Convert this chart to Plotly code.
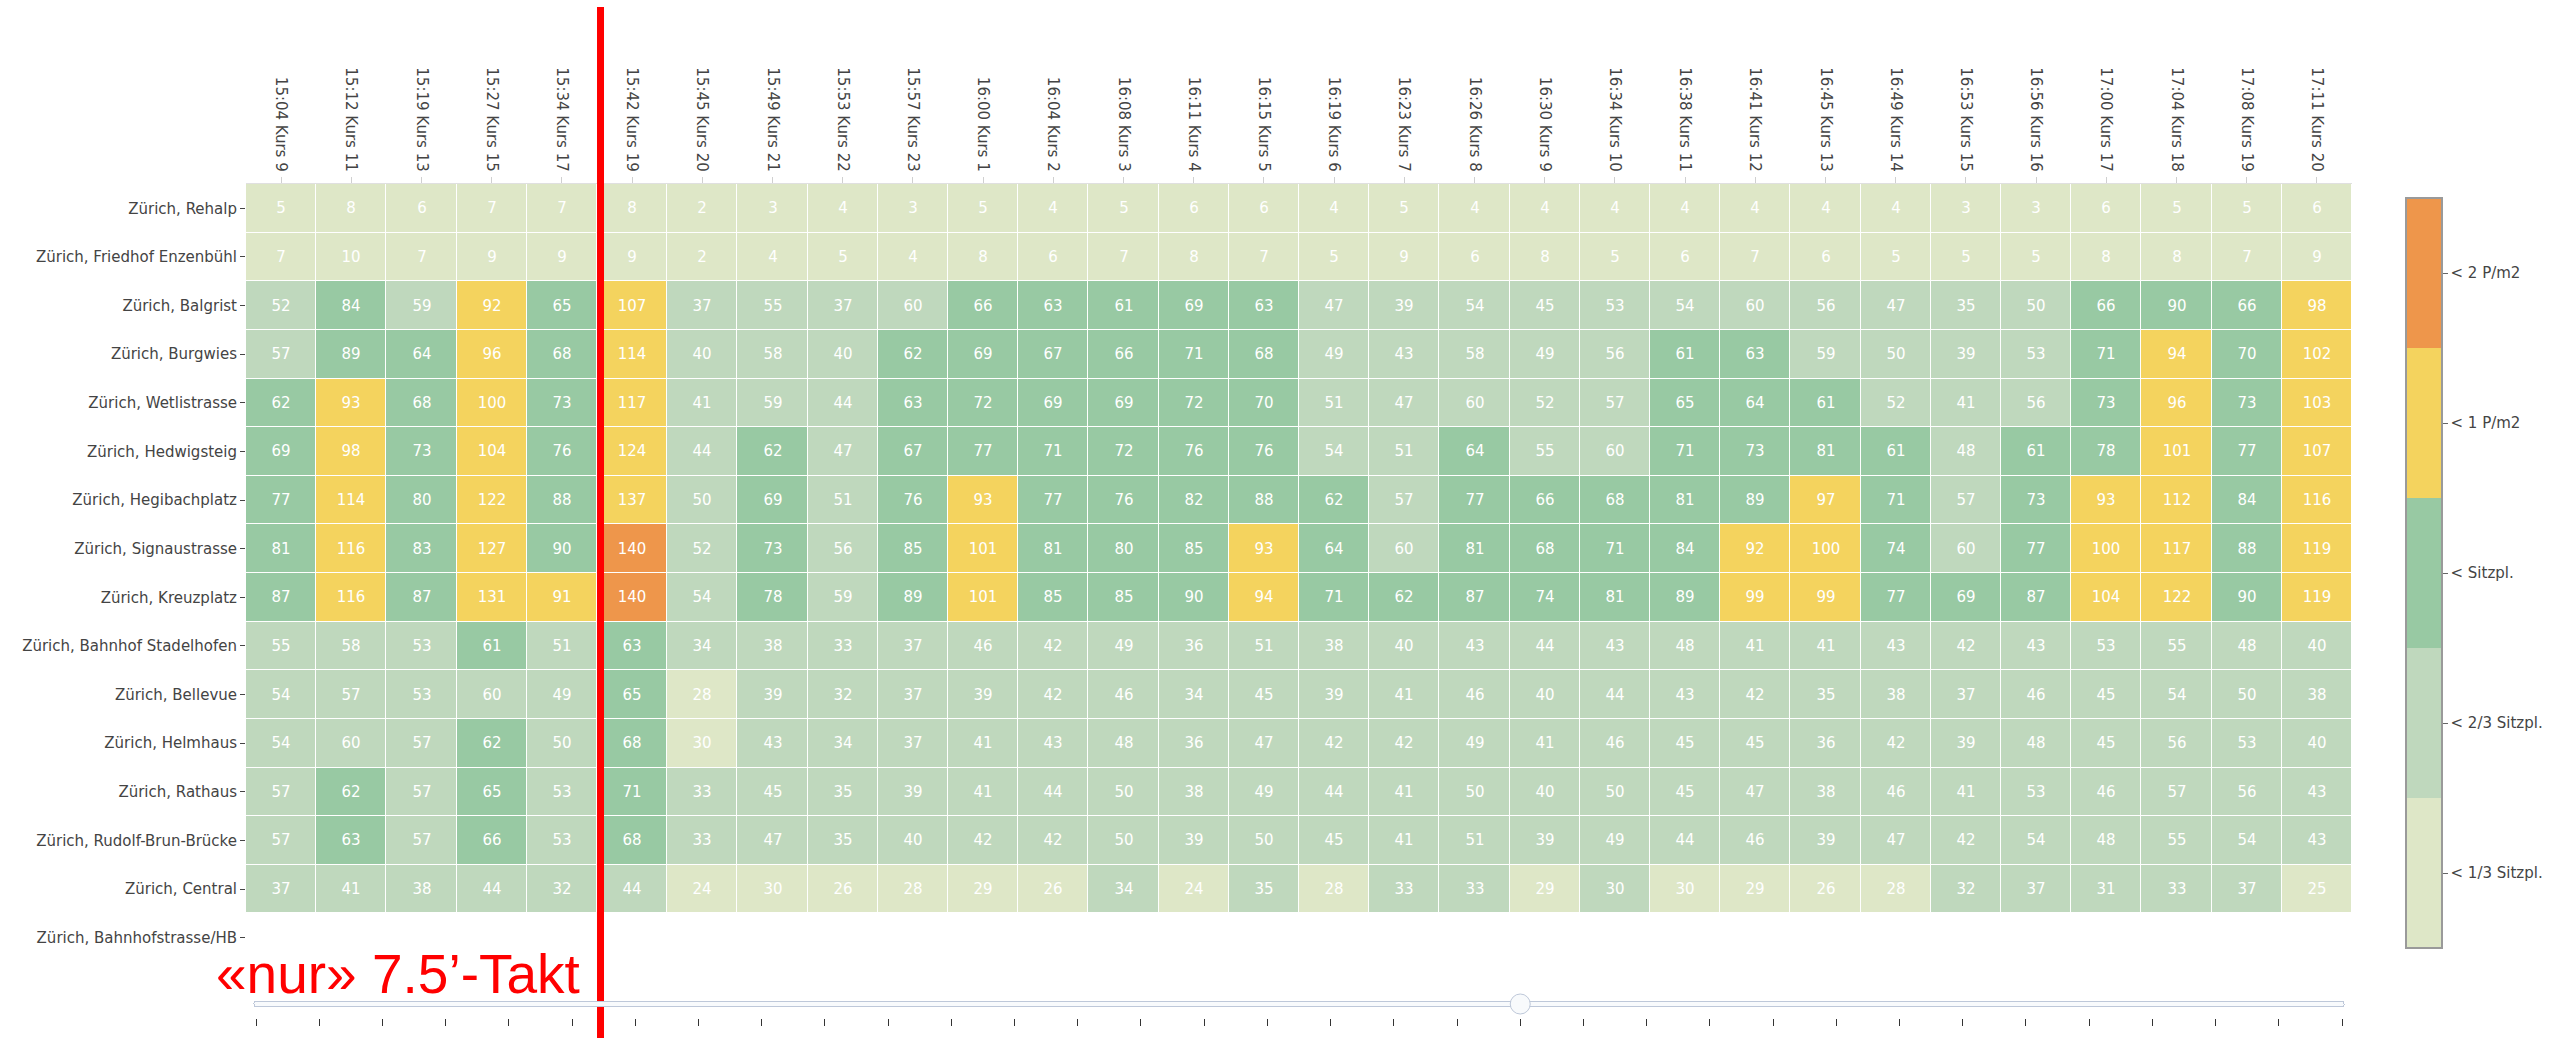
import plotly.graph_objects as go

courses = ["15:04 Kurs 9", "15:12 Kurs 11", "15:19 Kurs 13", "15:27 Kurs 15", "15:34 Kurs 17",
           "15:42 Kurs 19", "15:45 Kurs 20", "15:49 Kurs 21", "15:53 Kurs 22", "15:57 Kurs 23",
           "16:00 Kurs 1", "16:04 Kurs 2", "16:08 Kurs 3", "16:11 Kurs 4", "16:15 Kurs 5",
           "16:19 Kurs 6", "16:23 Kurs 7", "16:26 Kurs 8", "16:30 Kurs 9", "16:34 Kurs 10",
           "16:38 Kurs 11", "16:41 Kurs 12", "16:45 Kurs 13", "16:49 Kurs 14", "16:53 Kurs 15",
           "16:56 Kurs 16", "17:00 Kurs 17", "17:04 Kurs 18", "17:08 Kurs 19", "17:11 Kurs 20"]

stops = ["Zürich, Rehalp", "Zürich, Friedhof Enzenbühl", "Zürich, Balgrist", "Zürich, Burgwies",
         "Zürich, Wetlistrasse", "Zürich, Hedwigsteig", "Zürich, Hegibachplatz", "Zürich, Signaustrasse",
         "Zürich, Kreuzplatz", "Zürich, Bahnhof Stadelhofen", "Zürich, Bellevue", "Zürich, Helmhaus",
         "Zürich, Rathaus", "Zürich, Rudolf-Brun-Brücke", "Zürich, Central", "Zürich, Bahnhofstrasse/HB"]

# passengers per stop (rows) and course (columns)
passengers = [
    [5, 8, 6, 7, 7, 8, 2, 3, 4, 3, 5, 4, 5, 6, 6, 4, 5, 4, 4, 4, 4, 4, 4, 4, 3, 3, 6, 5, 5, 6],
    [7, 10, 7, 9, 9, 9, 2, 4, 5, 4, 8, 6, 7, 8, 7, 5, 9, 6, 8, 5, 6, 7, 6, 5, 5, 5, 8, 8, 7, 9],
    [52, 84, 59, 92, 65, 107, 37, 55, 37, 60, 66, 63, 61, 69, 63, 47, 39, 54, 45, 53, 54, 60, 56, 47, 35, 50, 66, 90, 66, 98],
    [57, 89, 64, 96, 68, 114, 40, 58, 40, 62, 69, 67, 66, 71, 68, 49, 43, 58, 49, 56, 61, 63, 59, 50, 39, 53, 71, 94, 70, 102],
    [62, 93, 68, 100, 73, 117, 41, 59, 44, 63, 72, 69, 69, 72, 70, 51, 47, 60, 52, 57, 65, 64, 61, 52, 41, 56, 73, 96, 73, 103],
    [69, 98, 73, 104, 76, 124, 44, 62, 47, 67, 77, 71, 72, 76, 76, 54, 51, 64, 55, 60, 71, 73, 81, 61, 48, 61, 78, 101, 77, 107],
    [77, 114, 80, 122, 88, 137, 50, 69, 51, 76, 93, 77, 76, 82, 88, 62, 57, 77, 66, 68, 81, 89, 97, 71, 57, 73, 93, 112, 84, 116],
    [81, 116, 83, 127, 90, 140, 52, 73, 56, 85, 101, 81, 80, 85, 93, 64, 60, 81, 68, 71, 84, 92, 100, 74, 60, 77, 100, 117, 88, 119],
    [87, 116, 87, 131, 91, 140, 54, 78, 59, 89, 101, 85, 85, 90, 94, 71, 62, 87, 74, 81, 89, 99, 99, 77, 69, 87, 104, 122, 90, 119],
    [55, 58, 53, 61, 51, 63, 34, 38, 33, 37, 46, 42, 49, 36, 51, 38, 40, 43, 44, 43, 48, 41, 41, 43, 42, 43, 53, 55, 48, 40],
    [54, 57, 53, 60, 49, 65, 28, 39, 32, 37, 39, 42, 46, 34, 45, 39, 41, 46, 40, 44, 43, 42, 35, 38, 37, 46, 45, 54, 50, 38],
    [54, 60, 57, 62, 50, 68, 30, 43, 34, 37, 41, 43, 48, 36, 47, 42, 42, 49, 41, 46, 45, 45, 36, 42, 39, 48, 45, 56, 53, 40],
    [57, 62, 57, 65, 53, 71, 33, 45, 35, 39, 41, 44, 50, 38, 49, 44, 41, 50, 40, 50, 45, 47, 38, 46, 41, 53, 46, 57, 56, 43],
    [57, 63, 57, 66, 53, 68, 33, 47, 35, 40, 42, 42, 50, 39, 50, 45, 41, 51, 39, 49, 44, 46, 39, 47, 42, 54, 48, 55, 54, 43],
    [37, 41, 38, 44, 32, 44, 24, 30, 26, 28, 29, 26, 34, 24, 35, 28, 33, 33, 29, 30, 30, 29, 26, 28, 32, 37, 31, 33, 37, 25],
    [None] * 30,
]

# occupancy class per cell: 0 <1/3 Sitzpl., 1 <2/3 Sitzpl., 2 <Sitzpl., 3 <1 P/m2, 4 <2 P/m2
levels = [
    [0] * 30,
    [0] * 30,
    [1, 2, 1, 3, 2, 3, 1, 1, 1, 1, 2, 2, 2, 2, 2, 1, 1, 1, 1, 1, 1, 1, 1, 1, 1, 1, 2, 2, 2, 3],
    [1, 2, 2, 3, 2, 3, 1, 1, 1, 2, 2, 2, 2, 2, 2, 1, 1, 1, 1, 1, 2, 2, 1, 1, 1, 1, 2, 3, 2, 3],
    [2, 3, 2, 3, 2, 3, 1, 1, 1, 2, 2, 2, 2, 2, 2, 1, 1, 1, 1, 1, 2, 2, 2, 1, 1, 1, 2, 3, 2, 3],
    [2, 3, 2, 3, 2, 3, 1, 2, 1, 2, 2, 2, 2, 2, 2, 1, 1, 2, 1, 1, 2, 2, 2, 2, 1, 2, 2, 3, 2, 3],
    [2, 3, 2, 3, 2, 3, 1, 2, 1, 2, 3, 2, 2, 2, 2, 2, 1, 2, 2, 2, 2, 2, 3, 2, 1, 2, 3, 3, 2, 3],
    [2, 3, 2, 3, 2, 4, 1, 2, 1, 2, 3, 2, 2, 2, 3, 2, 1, 2, 2, 2, 2, 3, 3, 2, 1, 2, 3, 3, 2, 3],
    [2, 3, 2, 3, 3, 4, 1, 2, 1, 2, 3, 2, 2, 2, 3, 2, 2, 2, 2, 2, 2, 3, 3, 2, 2, 2, 3, 3, 2, 3],
    [1, 1, 1, 2, 1, 2] + [1] * 24,
    [1, 1, 1, 1, 1, 2, 0] + [1] * 23,
    [1, 1, 1, 2, 1, 2, 0] + [1] * 23,
    [1, 2, 1, 2, 1, 2, 1] + [1] * 23,
    [1, 2, 1, 2, 1, 2, 1] + [1] * 23,
    [1, 1, 1, 1, 1, 1, 0, 0, 0, 0, 0, 0, 1, 0, 1, 0, 1, 1, 0, 1, 0, 0, 0, 0, 1, 1, 1, 1, 1, 0],
    [None] * 30,
]

class_labels = ["< 1/3 Sitzpl.", "< 2/3 Sitzpl.", "< Sitzpl.", "< 1 P/m2", "< 2 P/m2"]
class_colors = ["#dee7c7", "#bfd8bd", "#98c9a3", "#f4d35e", "#ee964b"]

n = len(class_colors)
colorscale = []
for i, c in enumerate(class_colors):
    colorscale.append([i / n, c])
    colorscale.append([(i + 1) / n, c])

fig = go.Figure(go.Heatmap(
    z=levels, x=courses, y=stops, text=passengers,
    texttemplate="%{text}",
    textfont=dict(color="white", size=15, family="Verdana, DejaVu Sans"),
    colorscale=colorscale, zmin=-0.5, zmax=n - 0.5,
    xgap=1, ygap=1,
    hovertemplate="%{y}<br>%{x}<br>%{text}<extra></extra>",
    colorbar=dict(
        tickvals=list(range(n)), ticktext=class_labels,
        thickness=36, len=1, outlinewidth=2, outlinecolor="#9a9a9a",
        xpad=12, ypad=14,
        ticks="outside", ticklen=5, tickcolor="#666",
        tickfont=dict(size=15, color="#444"),
    ),
))

steps = []
for i in range(34):
    steps.append(dict(method="relayout", label="", args=[{}]))

fig.update_layout(
    width=2552, height=1038,
    margin=dict(l=246, r=200, t=184, b=76, autoexpand=False),
    paper_bgcolor="white", plot_bgcolor="white",
    font=dict(family="Verdana, DejaVu Sans", size=15, color="#444"),
    xaxis=dict(side="top", tickangle=90, ticks="outside", ticklen=6, tickcolor="#d0d0d0",
               showline=True, linecolor="#e0e0e0", showgrid=False, automargin=False,
               tickfont=dict(size=15)),
    yaxis=dict(autorange="reversed", ticks="outside", ticklen=5, tickcolor="#444",
               showgrid=False, automargin=False, tickfont=dict(size=15)),
    sliders=[dict(active=20, steps=steps, x=0, len=1, y=0, yanchor="top",
                  pad=dict(t=32, b=0), currentvalue=dict(visible=False),
                  font=dict(size=1))],
    shapes=[dict(type="line", xref="x", yref="paper", x0=4.55, x1=4.55, y0=-0.2, y1=1.2275,
                 line=dict(color="red", width=7), layer="above")],
    annotations=[dict(text="«nur» 7.5’-Takt", xref="paper", yref="paper", x=0.0722, y=-0.016,
                      xanchor="center", yanchor="middle", showarrow=False,
                      font=dict(family="Arial, Liberation Sans", size=55, color="red"))],
)

fig.write_html("out.html", config={"displayModeBar": False},
               post_script="document.body.style.margin='0';document.body.style.overflow='hidden';")
